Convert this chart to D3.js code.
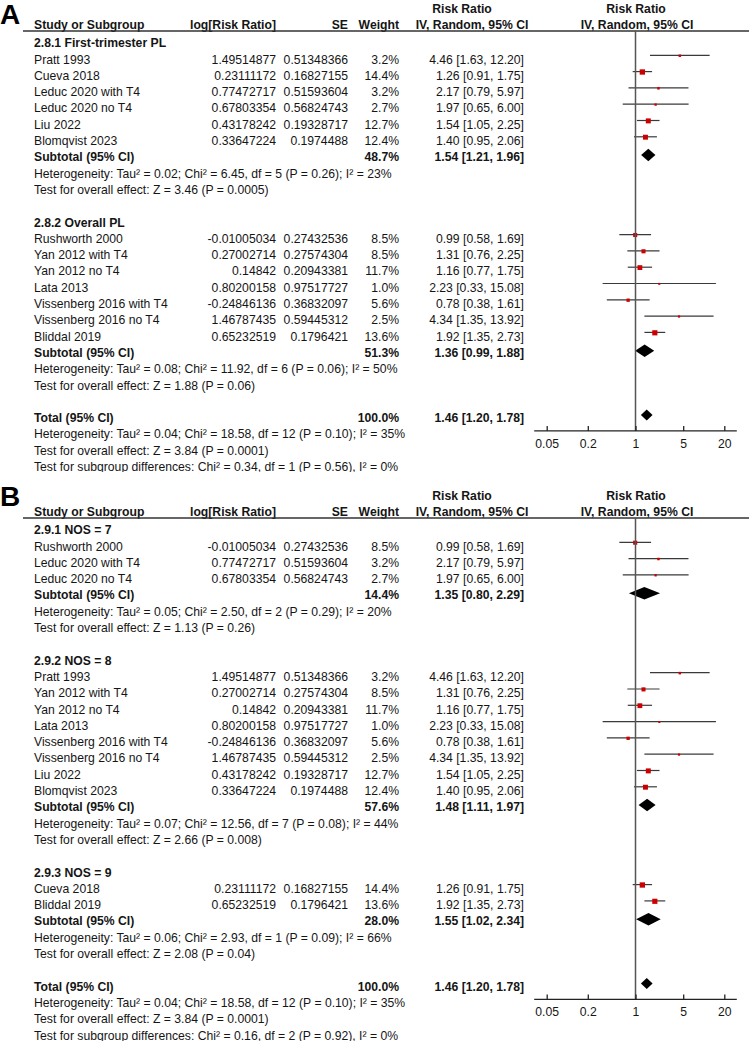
<!DOCTYPE html>
<html>
<head>
<meta charset="utf-8">
<script src="https://cdn.jsdelivr.net/npm/d3@7"></script>
<style>
  body { margin: 0; background: #fff; }
  svg text { font-family: "Liberation Sans", Arial, Helvetica, sans-serif; font-size: 12.2px; fill: #151515; }
  .bold { font-weight: bold; }
</style>
</head>
<body>
<svg id="chart" width="749" height="1041"></svg>
<script>
/* ── Study data (shared by both panels) ─────────────────── */
const studyNames = ['Pratt 1993', 'Cueva 2018', 'Leduc 2020 with T4', 'Leduc 2020 no T4', 'Liu 2022',
  'Blomqvist 2023', 'Rushworth 2000', 'Yan 2012 with T4', 'Yan 2012 no T4', 'Lata 2013',
  'Vissenberg 2016 with T4', 'Vissenberg 2016 no T4', 'Bliddal 2019'];
const logRR   = [1.49514877, 0.23111172, 0.77472717, 0.67803354, 0.43178242, 0.33647224,
  -0.01005034, 0.27002714, 0.14842, 0.80200158, -0.24846136, 1.46787435, 0.65232519];
const seVals  = [0.51348366, 0.16827155, 0.51593604, 0.56824743, 0.19328717, 0.1974488,
  0.27432536, 0.27574304, 0.20943381, 0.97517727, 0.36832097, 0.59445312, 0.1796421];
const weights = [3.2, 14.4, 3.2, 2.7, 12.7, 12.4, 8.5, 8.5, 11.7, 1.0, 5.6, 2.5, 13.6];
const rrVals  = [4.46, 1.26, 2.17, 1.97, 1.54, 1.40, 0.99, 1.31, 1.16, 2.23, 0.78, 4.34, 1.92];
const ciLow   = [1.63, 0.91, 0.79, 0.65, 1.05, 0.95, 0.58, 0.76, 0.77, 0.33, 0.38, 1.35, 1.35];
const ciHigh  = [12.20, 1.75, 5.97, 6.00, 2.25, 2.06, 1.69, 2.25, 1.75, 15.08, 1.61, 13.92, 2.73];

/* ── Subgroups ──────────────────────────────────────────── */
const groupsA = [
  { title: '2.8.1 First-trimester PL',
    studies: ['Pratt 1993', 'Cueva 2018', 'Leduc 2020 with T4', 'Leduc 2020 no T4', 'Liu 2022', 'Blomqvist 2023'],
    weight: 48.7, rr: 1.54, lo: 1.21, hi: 1.96,
    het: 'Heterogeneity: Tau² = 0.02; Chi² = 6.45, df = 5 (P = 0.26); I² = 23%',
    test: 'Test for overall effect: Z = 3.46 (P = 0.0005)' },
  { title: '2.8.2 Overall PL',
    studies: ['Rushworth 2000', 'Yan 2012 with T4', 'Yan 2012 no T4', 'Lata 2013',
      'Vissenberg 2016 with T4', 'Vissenberg 2016 no T4', 'Bliddal 2019'],
    weight: 51.3, rr: 1.36, lo: 0.99, hi: 1.88,
    het: 'Heterogeneity: Tau² = 0.08; Chi² = 11.92, df = 6 (P = 0.06); I² = 50%',
    test: 'Test for overall effect: Z = 1.88 (P = 0.06)' }
];
const groupsB = [
  { title: '2.9.1 NOS = 7',
    studies: ['Rushworth 2000', 'Leduc 2020 with T4', 'Leduc 2020 no T4'],
    weight: 14.4, rr: 1.35, lo: 0.80, hi: 2.29,
    het: 'Heterogeneity: Tau² = 0.05; Chi² = 2.50, df = 2 (P = 0.29); I² = 20%',
    test: 'Test for overall effect: Z = 1.13 (P = 0.26)' },
  { title: '2.9.2 NOS = 8',
    studies: ['Pratt 1993', 'Yan 2012 with T4', 'Yan 2012 no T4', 'Lata 2013',
      'Vissenberg 2016 with T4', 'Vissenberg 2016 no T4', 'Liu 2022', 'Blomqvist 2023'],
    weight: 57.6, rr: 1.48, lo: 1.11, hi: 1.97,
    het: 'Heterogeneity: Tau² = 0.07; Chi² = 12.56, df = 7 (P = 0.08); I² = 44%',
    test: 'Test for overall effect: Z = 2.66 (P = 0.008)' },
  { title: '2.9.3 NOS = 9',
    studies: ['Cueva 2018', 'Bliddal 2019'],
    weight: 28.0, rr: 1.55, lo: 1.02, hi: 2.34,
    het: 'Heterogeneity: Tau² = 0.06; Chi² = 2.93, df = 1 (P = 0.09); I² = 66%',
    test: 'Test for overall effect: Z = 2.08 (P = 0.04)' }
];

/* ── Overall ────────────────────────────────────────────── */
const totalEffect = { weight: 100.0, rr: 1.46, lo: 1.20, hi: 1.78 };
const totalNotes = ['Heterogeneity: Tau² = 0.04; Chi² = 18.58, df = 12 (P = 0.10); I² = 35%',
  'Test for overall effect: Z = 3.84 (P = 0.0001)'];
const subgroupTestA = 'Test for subgroup differences: Chi² = 0.34, df = 1 (P = 0.56), I² = 0%';
const subgroupTestB = 'Test for subgroup differences: Chi² = 0.16, df = 2 (P = 0.92), I² = 0%';
const axisTicks = [0.05, 0.2, 1, 5, 20];

/* ── Layout ─────────────────────────────────────────────── */
const W = 749, H = 1041;
const PITCH = 16.3;
const col = { name: 34, logEnd: 276, seEnd: 348, wEnd: 399, ciEnd: 524, ciHead: 472, rrHead: 462, plotHead: 637 };

const svg = d3.select('#chart');
svg.append('rect').attr('width', W).attr('height', H).attr('fill', '#fff');

const x = d3.scaleLog().domain([0.05, 20]).range([546.7, 724.3]);

function buildRows(groups, subgroupTest) {
  const rows = [];
  groups.forEach(g => {
    rows.push({ kind: 'group', text: g.title });
    g.studies.forEach(n => rows.push({ kind: 'study', i: studyNames.indexOf(n) }));
    rows.push({ kind: 'sum', label: 'Subtotal (95% CI)', eff: g, h: 12.5 });
    rows.push({ kind: 'note', text: g.het });
    rows.push({ kind: 'note', text: g.test });
    rows.push({ kind: 'blank' });
  });
  rows.push({ kind: 'sum', label: 'Total (95% CI)', eff: totalEffect, h: 11, total: true });
  totalNotes.forEach(t => rows.push({ kind: 'note', text: t }));
  rows.push({ kind: 'note', text: subgroupTest });
  return rows;
}

function drawPanel(letter, letterY, top, clipH, groups, subgroupTest) {
  const clipId = 'clip' + letter;
  svg.append('clipPath').attr('id', clipId)
    .append('rect').attr('x', 0).attr('y', top).attr('width', W).attr('height', clipH);
  const g = svg.append('g').attr('clip-path', `url(#${clipId})`);

  g.append('text').attr('x', 0).attr('y', letterY).attr('class', 'bold')
    .style('font-size', '28px').style('fill', '#000').text(letter);

  /* header */
  const h1 = top + 13, h2 = top + 29.3, ruleY = top + 31;
  g.append('text').attr('class', 'bold').attr('x', col.rrHead).attr('y', h1).attr('text-anchor', 'middle').text('Risk Ratio');
  g.append('text').attr('class', 'bold').attr('x', col.plotHead - 1).attr('y', h1).attr('text-anchor', 'middle').text('Risk Ratio');
  [['Study or Subgroup', col.name, 'start'], ['log[Risk Ratio]', col.logEnd, 'end'], ['SE', col.seEnd, 'end'],
   ['Weight', col.wEnd, 'end'], ['IV, Random, 95% CI', col.ciHead, 'middle'], ['IV, Random, 95% CI', col.plotHead, 'middle']]
    .forEach(([t, xx, a]) => g.append('text').attr('class', 'bold').attr('x', xx).attr('y', h2).attr('text-anchor', a).text(t));
  g.append('line').attr('x1', 23).attr('x2', W).attr('y1', ruleY).attr('y2', ruleY)
    .attr('stroke', '#333').attr('stroke-width', 1.4);

  /* rows */
  const rows = buildRows(groups, subgroupTest);
  const y0 = top + 43;
  const rowY = i => y0 + i * PITCH;
  let totalIdx = 0;
  rows.forEach((r, i) => {
    const yb = rowY(i) + 4.2;
    const txt = (t, xx, a, bold) => g.append('text').attr('x', xx).attr('y', yb)
      .attr('text-anchor', a).attr('class', bold ? 'bold' : null).text(t);
    if (r.kind === 'group') txt(r.text, col.name, 'start', true);
    if (r.kind === 'note') txt(r.text, col.name, 'start', false);
    if (r.kind === 'study') {
      const k = r.i;
      txt(studyNames[k], col.name, 'start');
      txt(String(logRR[k]), col.logEnd, 'end');
      txt(String(seVals[k]), col.seEnd, 'end');
      txt(weights[k].toFixed(1) + '%', col.wEnd, 'end');
      txt(`${rrVals[k].toFixed(2)} [${ciLow[k].toFixed(2)}, ${ciHigh[k].toFixed(2)}]`, col.ciEnd, 'end');
      const my = rowY(i) - 4;
      g.append('line').attr('x1', x(ciLow[k])).attr('x2', x(ciHigh[k])).attr('y1', my).attr('y2', my)
        .attr('stroke', '#3a3a3a').attr('stroke-width', 1.2);
      const s = Math.max(2, 1.4 * Math.sqrt(weights[k]));
      g.append('rect').attr('x', x(rrVals[k]) - s / 2).attr('y', my - s / 2 + 0.4)
        .attr('width', s).attr('height', s).attr('fill', '#cc0000');
    }
    if (r.kind === 'sum') {
      const e = r.eff;
      txt(r.label, col.name, 'start', true);
      txt(e.weight.toFixed(1) + '%', col.wEnd, 'end', true);
      txt(`${e.rr.toFixed(2)} [${e.lo.toFixed(2)}, ${e.hi.toFixed(2)}]`, col.ciEnd, 'end', true);
      const dy = rowY(i) - (r.total ? 3 : 2);
      g.append('path')
        .attr('d', `M${x(e.lo)},${dy}L${x(e.rr)},${dy - r.h / 2}L${x(e.hi)},${dy}L${x(e.rr)},${dy + r.h / 2}Z`)
        .attr('fill', '#000');
      if (r.total) totalIdx = i;
    }
  });

  /* axis + null line */
  const axisY = rowY(totalIdx) + 13;
  g.append('line').attr('x1', x(1)).attr('x2', x(1)).attr('y1', ruleY).attr('y2', axisY)
    .attr('stroke', '#555').attr('stroke-width', 1.5);
  const ax = g.append('g').attr('transform', `translate(0,${axisY})`)
    .call(d3.axisBottom(x).tickValues(axisTicks).tickFormat(d => String(d)).tickSize(-5).tickPadding(8));
  ax.select('.domain').remove();
  ax.selectAll('.tick line').attr('stroke', '#222').attr('stroke-width', 1.3);
  ax.selectAll('.tick text').style('font-size', '12.2px').attr('fill', '#151515')
    .style('font-family', '"Liberation Sans", Arial, sans-serif');
  ax.append('line').attr('x1', x(axisTicks[0]) - 12.5).attr('x2', x(axisTicks[axisTicks.length - 1]) + 12.5)
    .attr('stroke', '#222').attr('stroke-width', 1.3);
}

// panel A is cut off just below its last line, as in the source figure
drawPanel('A', 24, 0, 472, groupsA, subgroupTestA);
drawPanel('B', 506, 487, 560, groupsB, subgroupTestB);
</script>
</body>
</html>
